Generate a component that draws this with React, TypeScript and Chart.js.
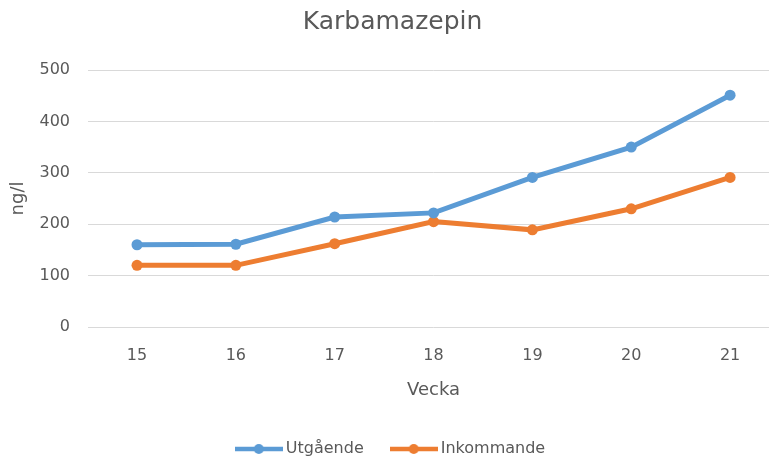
import React, { useEffect, useRef } from "react";
import { Chart, registerables } from "chart.js";

Chart.register(...registerables);

const weeks = ["15", "16", "17", "18", "19", "20", "21"];
const utgaende = [160, 161, 214, 222, 291, 350, 451];
const inkommande = [120, 120, 162, 205, 189, 230, 291];
const yTicks = [0, 100, 200, 300, 400, 500];

const BLUE = "#5B9BD5";
const ORANGE = "#ED7D31";
const TEXT = "#595959";
const FONT = "'DejaVu Sans', sans-serif";

function legendSymbol(color: string): HTMLCanvasElement {
  const c = document.createElement("canvas");
  c.width = 48;
  c.height = 12;
  const ctx = c.getContext("2d")!;
  ctx.strokeStyle = color;
  ctx.lineWidth = 4.5;
  ctx.beginPath();
  ctx.moveTo(0, 6);
  ctx.lineTo(48, 6);
  ctx.stroke();
  ctx.fillStyle = color;
  ctx.beginPath();
  ctx.arc(24, 6, 5, 0, Math.PI * 2);
  ctx.fill();
  return c;
}

export default function App() {
  const ref = useRef<HTMLCanvasElement | null>(null);

  useEffect(() => {
    if (!ref.current) return;
    const symbols = [legendSymbol(BLUE), legendSymbol(ORANGE)];
    const chart = new Chart(ref.current, {
      type: "line",
      data: {
        labels: weeks,
        datasets: [
          {
            label: "Utgående",
            data: utgaende,
            borderColor: BLUE,
            backgroundColor: BLUE,
            borderWidth: 5,
            pointRadius: 5.5,
            pointBorderWidth: 0,
            pointBackgroundColor: BLUE,
            tension: 0,
          },
          {
            label: "Inkommande",
            data: inkommande,
            borderColor: ORANGE,
            backgroundColor: ORANGE,
            borderWidth: 5,
            pointRadius: 5.5,
            pointBorderWidth: 0,
            pointBackgroundColor: ORANGE,
            tension: 0,
          },
        ],
      },
      options: {
        animation: false,
        responsive: true,
        maintainAspectRatio: false,
        layout: { padding: 0 },
        plugins: {
          title: {
            display: true,
            text: "Karbamazepin",
            color: TEXT,
            font: { family: FONT, size: 25, weight: "normal" },
            padding: { top: 7, bottom: 33 },
          },
          legend: {
            position: "bottom",
            labels: {
              color: TEXT,
              font: { family: FONT, size: 16 },
              usePointStyle: true,
              pointStyleWidth: 38,
              padding: 31,
              generateLabels: (ch: any) => {
                const items = Chart.defaults.plugins.legend.labels.generateLabels(ch);
                items.forEach((it: any, i: number) => {
                  it.pointStyle = symbols[i];
                });
                return items;
              },
            },
          },
          tooltip: { enabled: false },
        },
        scales: {
          x: {
            offset: true,
            grid: { display: false, drawTicks: false },
            border: { display: false },
            ticks: {
              color: TEXT,
              font: { family: FONT, size: 16 },
              padding: 19,
            },
            title: {
              display: true,
              text: "Vecka",
              color: TEXT,
              font: { family: FONT, size: 18 },
              padding: { top: 0, bottom: 8.5 },
            },
            afterFit: (s: any) => {
              s.height = 83;
            },
          },
          y: {
            min: 0,
            max: 500,
            grid: { color: "#D9D9D9", lineWidth: 1, drawTicks: false },
            border: { display: false },
            afterBuildTicks: (s: any) => {
              s.ticks = yTicks.map((v) => ({ value: v }));
            },
            ticks: {
              color: TEXT,
              font: { family: FONT, size: 16 },
              padding: 17.6,
            },
            title: {
              display: true,
              text: "ng/l",
              color: TEXT,
              font: { family: FONT, size: 18 },
              padding: { top: 7.5, bottom: 0 },
            },
            afterFit: (s: any) => {
              s.width = 87.6;
            },
          },
        },
      },
    });
    return () => chart.destroy();
  }, []);

  return (
    <div
      style={{
        position: "fixed",
        left: 0,
        top: 0,
        width: 769,
        height: 461,
        overflow: "hidden",
        background: "#fff",
      }}
    >
      <div style={{ position: "relative", width: 785, height: 467 }}>
        <canvas ref={ref} />
      </div>
    </div>
  );
}
